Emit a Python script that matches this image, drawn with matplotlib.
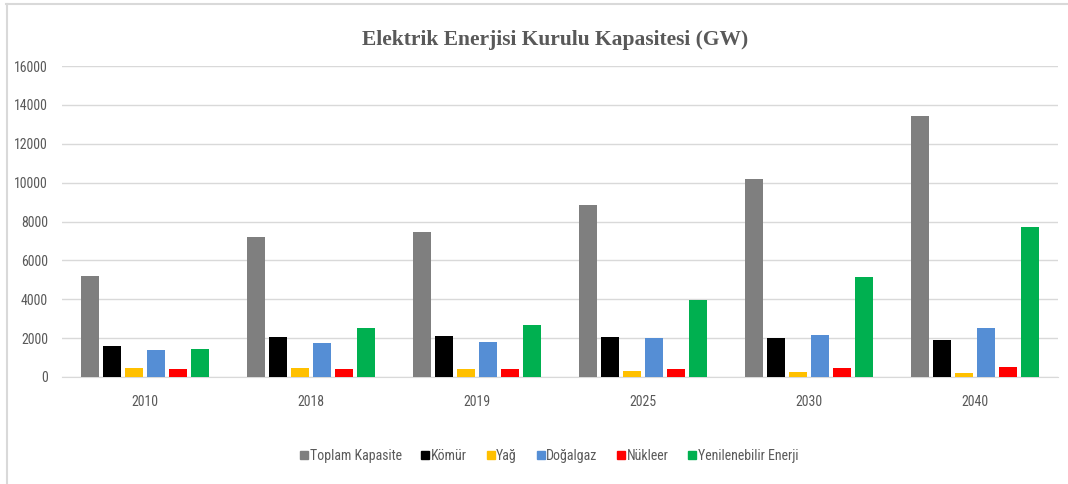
import matplotlib
matplotlib.use('Agg')
import matplotlib.pyplot as plt
from matplotlib.lines import Line2D
from matplotlib import font_manager
import numpy as np

# data
years = ['2010', '2018', '2019', '2025', '2030', '2040']
series_names = ['Toplam Kapasite', 'Kömür', 'Yağ', 'Doğalgaz', 'Nükleer',
                'Yenilenebilir Enerji']
toplam = [5200, 7200, 7460, 8830, 10170, 13430]
komur = [1580, 2060, 2110, 2060, 2010, 1900]
yag = [450, 450, 430, 330, 280, 220]
dogalgaz = [1390, 1750, 1800, 2010, 2160, 2520]
nukleer = [400, 400, 390, 390, 450, 500]
yenilenebilir = [1440, 2500, 2680, 3960, 5140, 7720]
colors = ['#7f7f7f', '#000000', '#ffc000', '#558ed5', '#ff0000', '#00b050']

text_color = '#595959'

# pick a narrow sans font if one is installed
installed = {f.name for f in font_manager.fontManager.ttflist}
narrow = 'Liberation Sans'
for cand in ['Liberation Sans Narrow', 'DejaVu Sans Condensed', 'Roboto Condensed',
             'Open Sans Condensed']:
    if cand in installed:
        narrow = cand
        break
tick_size = 10 if narrow != 'Liberation Sans' else 9

fig = plt.figure(figsize=(10.68, 4.84), dpi=100)
ax = fig.add_axes([62 / 1068, 1 - 377 / 484, 996 / 1068, 311 / 484])

all_series = [toplam, komur, yag, dogalgaz, nukleer, yenilenebilir]
x = np.arange(len(years))
pitch = 0.1325
width = 0.104
for i, (vals, name, col) in enumerate(zip(all_series, series_names, colors)):
    offset = (i - 2.5) * pitch
    ax.bar(x + offset, vals, width=width, color=col, label=name, zorder=3)

ax.set_xlim(-0.5, len(years) - 0.5)
ax.set_ylim(0, 16000)
ax.set_yticks(np.arange(0, 16001, 2000))
ax.set_xticks(x)
ax.set_xticklabels(years)
ax.grid(axis='y', color='#d9d9d9', linewidth=1, zorder=0)
ax.tick_params(length=0, colors=text_color, labelsize=tick_size)
ax.tick_params(axis='y', pad=10)
ax.tick_params(axis='x', pad=13)
for lbl in ax.get_xticklabels() + ax.get_yticklabels():
    lbl.set_family(narrow)
for s in ['top', 'right', 'left']:
    ax.spines[s].set_visible(False)
ax.spines['bottom'].set_color('#d9d9d9')

fig.text(555 / 1068, 1 - 40 / 484, 'Elektrik Enerjisi Kurulu Kapasitesi (GW)',
         ha='center', va='center', fontsize=15.5, fontweight='bold',
         family='Liberation Serif', color=text_color)

handles = [Line2D([], [], marker='s', linestyle='none', markersize=6,
                  markerfacecolor=c, markeredgecolor=c) for c in colors]
leg = fig.legend(handles, series_names, loc='center',
                 bbox_to_anchor=(547 / 1068, 1 - 456 / 484), ncol=6,
                 frameon=False, handletextpad=-0.2, columnspacing=1.1,
                 handlelength=1.2,
                 prop={'family': narrow, 'size': tick_size})
for t in leg.get_texts():
    t.set_color(text_color)

# chart border (top and left edges visible)
fig.add_artist(Line2D([6 / 1068, 1], [1 - 4 / 484, 1 - 4 / 484],
                      transform=fig.transFigure, color='#d9d9d9', linewidth=1.5))
fig.add_artist(Line2D([6.5 / 1068, 6.5 / 1068], [0, 1 - 4 / 484],
                      transform=fig.transFigure, color='#d9d9d9', linewidth=1.5))

fig.savefig('out.png', dpi=100)
